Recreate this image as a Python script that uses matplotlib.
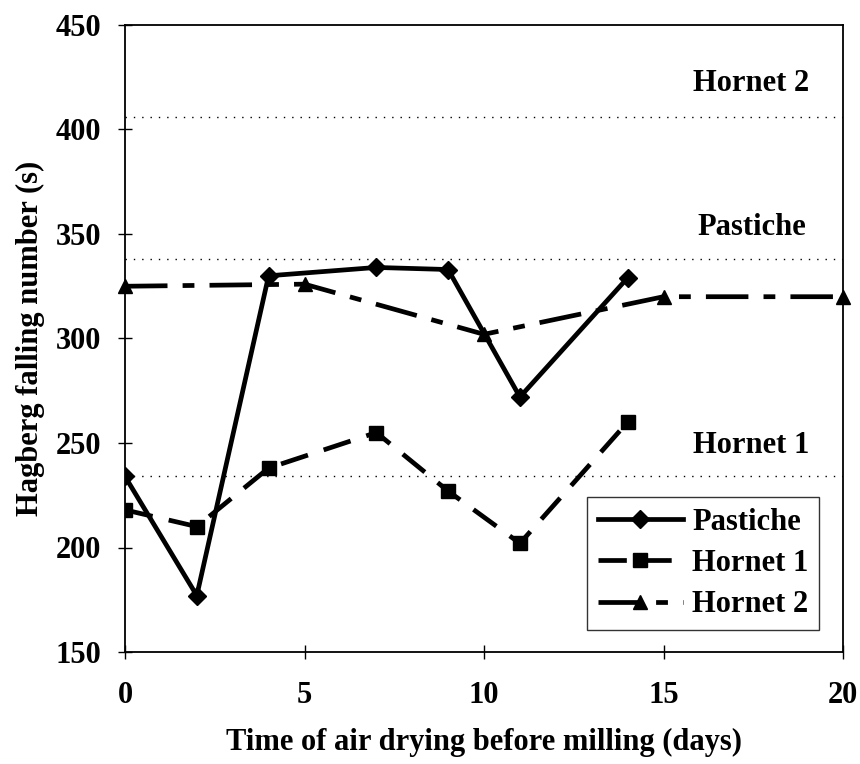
import numpy as np
import matplotlib.pyplot as plt

plt.rcParams['font.family'] = ['Liberation Serif', 'DejaVu Serif']
plt.rcParams['font.weight'] = 'bold'

# drying time (days) and Hagberg falling number (s)
days_p = [0, 2, 4, 7, 9, 11, 14]
pastiche = [234, 177, 330, 334, 333, 272, 329]

days_h1 = [0, 2, 4, 7, 9, 11, 14]
hornet1 = [218, 210, 238, 255, 227, 202, 260]

days_h2 = [0, 5, 10, 15, 20]
hornet2 = [325, 326, 302, 320, 320]

# reference levels for each variety
ref_names = ['Hornet 2', 'Pastiche', 'Hornet 1']
ref_values = [406, 338, 234]
ref_label_y = [422, 353, 249]

fig = plt.figure(figsize=(8.6, 7.64), dpi=100)
ax = fig.add_axes([125 / 860, 1 - 652 / 764, 718 / 860, 627 / 764])

for name, val, ly in zip(ref_names, ref_values, ref_label_y):
    ax.axhline(val, color='black', lw=1.0, ls=(0, (1, 5)), zorder=1)
    ax.text(17.45, ly, name, ha='center', va='center', fontsize=22, fontweight='bold')

ax.plot(days_p, pastiche, color='black', lw=3.4, marker='D', ms=9,
        label='Pastiche', zorder=4)
ax.plot(days_h1, hornet1, color='black', lw=3.4, ls=(0, (6, 3.5)), marker='s', ms=10,
        label='Hornet 1', zorder=3)
ax.plot(days_h2, hornet2, color='black', lw=3.4, ls=(0, (9, 3.2, 2.5, 3.2)), marker='^',
        ms=10, label='Hornet 2', zorder=3, clip_on=False)

ax.set_xlim(0, 20)
ax.set_ylim(150, 450)
ax.set_xticks(np.arange(0, 21, 5))
ax.set_yticks(np.arange(150, 451, 50))
ax.tick_params(direction='inout', length=10, width=1, labelsize=22, pad=12)
ax.tick_params(axis='x', pad=16)
for lab in ax.get_xticklabels() + ax.get_yticklabels():
    lab.set_fontweight('bold')
for sp in ax.spines.values():
    sp.set_linewidth(1.3)

ax.set_xlabel('Time of air drying before milling (days)', fontsize=22,
              fontweight='bold', labelpad=13)
ax.set_ylabel('Hagberg falling number (s)', fontsize=22, fontweight='bold', labelpad=8)

leg = ax.legend(loc='lower right', bbox_to_anchor=(0.967, 0.035), fontsize=22,
                frameon=True, fancybox=False, edgecolor='black', handlelength=2.8,
                handletextpad=0.3, borderpad=0.35, labelspacing=0.4, borderaxespad=0)
leg.get_frame().set_linewidth(1.0)
for t in leg.get_texts():
    t.set_fontweight('bold')

fig.savefig('out.png', dpi=100)
